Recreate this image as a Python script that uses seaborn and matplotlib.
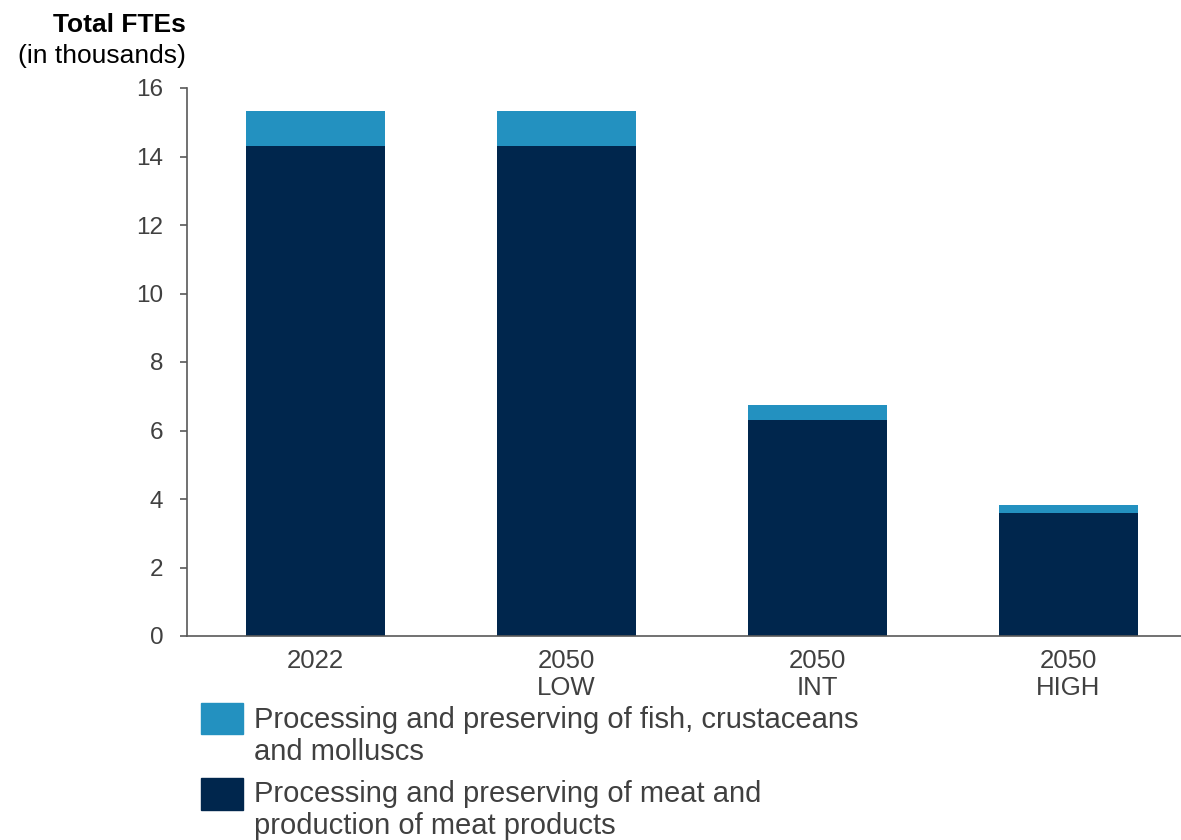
import matplotlib
matplotlib.use("Agg")
import matplotlib.pyplot as plt
from matplotlib.patches import Rectangle
import seaborn as sns
import pandas as pd

# data (thousands of FTEs)
categories = ["2022", "2050\nLOW", "2050\nINT", "2050\nHIGH"]
meat = [14.3, 14.3, 6.3, 3.58]
fish = [1.02, 1.02, 0.45, 0.24]
yticks = [0, 2, 4, 6, 8, 10, 12, 14, 16]

fish_label = "Processing and preserving of fish, crustaceans\nand molluscs"
meat_label = "Processing and preserving of meat and\nproduction of meat products"

fish_color = "#2391c0"
meat_color = "#00264d"
text_grey = "#404040"

df = pd.DataFrame({"category": categories, "meat": meat, "fish": fish})
df["total"] = df["meat"] + df["fish"]

sns.set_style("white")
plt.rcParams["font.family"] = ["Liberation Sans", "DejaVu Sans"]

W, H = 1181, 840
fig = plt.figure(figsize=(W / 100, H / 100), dpi=100)
ax = fig.add_axes([187 / W, 1 - 636 / H, 1 - 187 / W, 548 / H])

# stacked: total in light blue, meat drawn over it
sns.barplot(data=df, x="category", y="total", color=fish_color, width=0.554,
            saturation=1, ax=ax, linewidth=0)
sns.barplot(data=df, x="category", y="meat", color=meat_color, width=0.554,
            saturation=1, ax=ax, linewidth=0)

ax.set_xlim(-0.512, 3.448)
ax.set_ylim(0, 16)
ax.set_yticks(yticks)
ax.set_yticklabels([str(t) for t in yticks])
ax.set_xlabel("")
ax.set_ylabel("")

for side in ["top", "right"]:
    ax.spines[side].set_visible(False)
for side in ["left", "bottom"]:
    ax.spines[side].set_color("#595959")
    ax.spines[side].set_linewidth(1.2)

ax.tick_params(axis="y", direction="out", length=5, width=1.2, color="#595959",
               pad=12, labelsize=17.5, labelcolor=text_grey, left=True)
ax.tick_params(axis="x", length=0, pad=9, labelsize=18.5, labelcolor=text_grey)
for lbl in ax.get_xticklabels():
    lbl.set_linespacing(1.2)

# axis title
fig.text(186 / W, 1 - 32 / H, "Total FTEs", ha="right", va="baseline",
         fontsize=19, fontweight="bold", color="black")
fig.text(186 / W, 1 - 63 / H, "(in thousands)", ha="right", va="baseline",
         fontsize=19, color="black")

# legend (baseline = last line of each label)
fig.add_artist(Rectangle((201 / W, 1 - 734 / H), 42 / W, 31 / H,
                         transform=fig.transFigure, color=fish_color))
fig.add_artist(Rectangle((201 / W, 1 - 810 / H), 42 / W, 32 / H,
                         transform=fig.transFigure, color=meat_color))
fig.text(254 / W, 1 - 760 / H, fish_label, ha="left", va="baseline",
         fontsize=21, color=text_grey, linespacing=1.2)
fig.text(254 / W, 1 - 834 / H, meat_label, ha="left", va="baseline",
         fontsize=21, color=text_grey, linespacing=1.2)

fig.savefig("out.png", dpi=100)
